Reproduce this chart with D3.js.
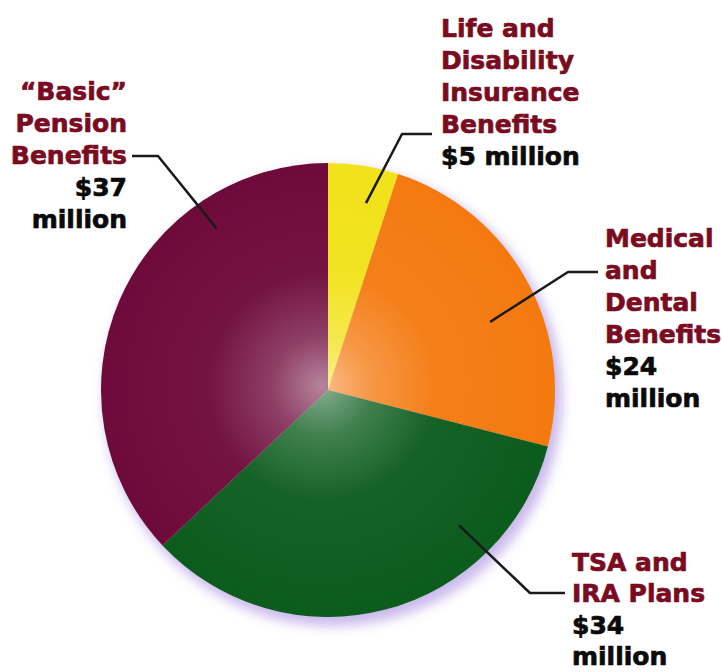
<!DOCTYPE html>
<html>
<head>
<meta charset="utf-8">
<script src="https://cdn.jsdelivr.net/npm/d3@7"></script>
<style>
  html, body { margin: 0; padding: 0; background: #ffffff; }
  svg { display: block; }
  text { font-family: "DejaVu Sans", sans-serif; font-weight: bold; }
</style>
</head>
<body>
<svg id="chart" width="722" height="672"></svg>
<script>
// ---- data ----
const categories = ["Life and Disability Insurance Benefits", "Medical and Dental Benefits", "TSA and IRA Plans", "\u201cBasic\u201d Pension Benefits"];
const values = [5, 24, 34, 37];
const nameLines = [
  ["Life and", "Disability", "Insurance", "Benefits"],
  ["Medical", "and", "Dental", "Benefits"],
  ["TSA and", "IRA Plans"],
  ["\u201cBasic\u201d", "Pension", "Benefits"]
];
const valueLines = [
  ["$5 million"],
  ["$24", "million"],
  ["$34", "million"],
  ["$37", "million"]
];
const colors = ["#f2e21a", "#f47a10", "#0c5c1e", "#6e0a3a"];

// ---- layout ----
const W = 722, H = 672;
const cx = 328, cy = 390, R = 227;
const labelLayout = [
  { anchor: "start", x: 441, y: 37,  lh: 32, hx: 432, ex: 402, hy: 134, ang: 11.5, rf: 0.84 },
  { anchor: "start", x: 605, y: 247, lh: 32, hx: 598, ex: 568, hy: 272, ang: 67.2, rf: 0.775 },
  { anchor: "start", x: 572, y: 571, lh: 31.3, hx: 565, ex: 530, hy: 593, ang: 135.9, rf: 0.83 },
  { anchor: "end",   x: 127, y: 100, lh: 32, hx: 132, ex: 158, hy: 156, ang: 325.4, rf: 0.865 }
];

const svg = d3.select("#chart");
const defs = svg.append("defs");

const blur = defs.append("filter").attr("id", "halo")
  .attr("x", "-20%").attr("y", "-20%").attr("width", "140%").attr("height", "140%");
blur.append("feGaussianBlur").attr("stdDeviation", 6);

const gl = defs.append("radialGradient").attr("id", "gloss")
  .attr("gradientUnits", "userSpaceOnUse")
  .attr("cx", cx - 6).attr("cy", cy - 4).attr("r", R);
gl.append("stop").attr("offset", "0%").attr("stop-color", "#ffffff").attr("stop-opacity", 0.5);
gl.append("stop").attr("offset", "22%").attr("stop-color", "#ffffff").attr("stop-opacity", 0.22);
gl.append("stop").attr("offset", "50%").attr("stop-color", "#ffffff").attr("stop-opacity", 0.04);
gl.append("stop").attr("offset", "100%").attr("stop-color", "#ffffff").attr("stop-opacity", 0);

const pie = d3.pie().sort(null).value(d => d)(values);
const arc = d3.arc().innerRadius(0).outerRadius(R);

const g = svg.append("g").attr("transform", `translate(${cx},${cy})`);

// lavender halo shadow
g.append("circle").attr("cx", 5).attr("cy", 7).attr("r", R + 2)
  .attr("fill", "#b9a2e6").attr("opacity", 0.75).attr("filter", "url(#halo)");

g.selectAll("path.slice").data(pie).join("path")
  .attr("class", "slice")
  .attr("d", arc)
  .attr("fill", (d, i) => colors[i]);

g.append("circle").attr("r", R).attr("fill", "url(#gloss)")
  .attr("transform", `translate(${-cx},${-cy})`).attr("cx", cx).attr("cy", cy);

// leader lines
labelLayout.forEach((L, i) => {
  const p = d3.pointRadial(L.ang * Math.PI / 180, R * L.rf);
  const pts = [[L.hx, L.hy], [L.ex, L.hy], [cx + p[0], cy + p[1]]];
  svg.append("path")
    .attr("d", d3.line()(pts))
    .attr("fill", "none")
    .attr("stroke", "#1a1a1a")
    .attr("stroke-width", 2.5)
    .attr("stroke-linejoin", "round");
});

// labels
labelLayout.forEach((L, i) => {
  const t = svg.append("text")
    .attr("text-anchor", L.anchor)
    .attr("font-size", 25)
    .attr("stroke-width", 0.7)
    .attr("paint-order", "stroke");
  const lines = nameLines[i].map(s => ({ s, c: "#7a0c22" }))
    .concat(valueLines[i].map(s => ({ s, c: "#0a0a0a" })));
  lines.forEach((ln, k) => {
    t.append("tspan")
      .attr("x", L.x)
      .attr("y", L.y + k * L.lh)
      .attr("fill", ln.c)
      .attr("stroke", ln.c)
      .text(ln.s);
  });
});
</script>
</body>
</html>
